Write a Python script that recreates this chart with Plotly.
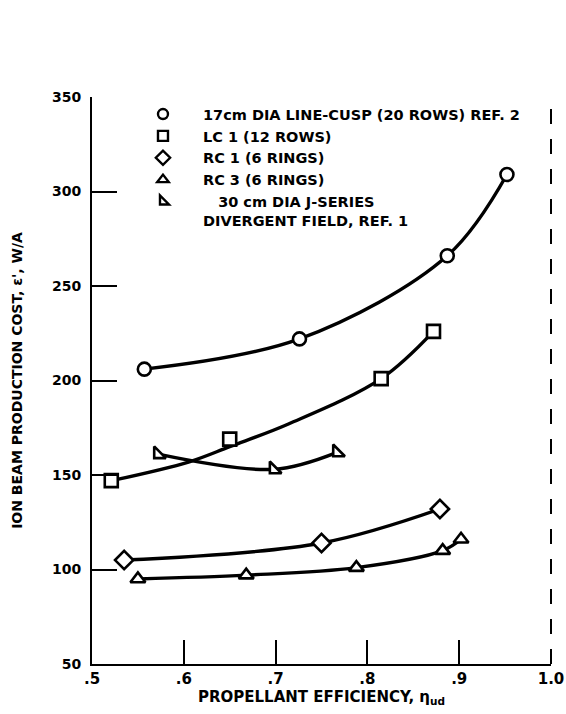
import plotly.graph_objects as go

# ---- data ----
circ_x = [0.557, 0.726, 0.887, 0.952]
circ_y = [206, 222, 266, 309]

sq_x = [0.521, 0.650, 0.815, 0.872]
sq_y = [147, 169, 201, 226]
# faired curve through the LC 1 data
sq_curve_x = [0.521, 0.606, 0.650, 0.714, 0.815, 0.872]
sq_curve_y = [147, 157, 165, 177, 201, 226]

dia_x = [0.535, 0.750, 0.879]
dia_y = [105, 114, 132]

tri_x = [0.550, 0.668, 0.788, 0.882, 0.902]
tri_y = [95, 97, 101, 110, 116]

j_x = [0.572, 0.698, 0.767]
j_y = [161, 153, 162]

x_ticks = [0.5, 0.6, 0.7, 0.8, 0.9, 1.0]
x_ticktext = [".5", ".6", ".7", ".8", ".9", "1.0"]
y_ticks = [50, 100, 150, 200, 250, 300, 350]

names = [
    "17cm DIA LINE-CUSP (20 ROWS) REF. 2",
    "LC 1 (12 ROWS)",
    "RC 1 (6 RINGS)",
    "RC 3 (6 RINGS)",
    "&nbsp;&nbsp;&nbsp;30 cm DIA J-SERIES<br>DIVERGENT FIELD, REF. 1",
]

FONT = "DejaVu Sans, Liberation Sans, sans-serif"
LW = 3.4

fig = go.Figure()

curves = [
    (circ_x, circ_y),
    (sq_curve_x, sq_curve_y),
    (dia_x, dia_y),
    (tri_x, tri_y),
    (j_x, j_y),
]
for cx, cy in curves:
    fig.add_trace(go.Scatter(
        x=cx, y=cy, mode="lines",
        line=dict(color="black", width=LW, shape="spline", smoothing=1.0),
        showlegend=False, hoverinfo="skip"))

markers = [
    (circ_x, circ_y, "circle", 13),
    (sq_x, sq_y, "square", 13),
    (dia_x, dia_y, "diamond", 14),
    (tri_x, tri_y, "triangle-up", 13),
    (j_x, j_y, "triangle-sw", 13),
]
for (mx, my, sym, sz), nm in zip(markers, names):
    # data markers
    fig.add_trace(go.Scatter(
        x=mx, y=my, mode="markers", name=nm, showlegend=False,
        marker=dict(symbol=sym, size=sz, color="white",
                    line=dict(color="black", width=2.6))))
    # legend key (slightly smaller symbol, as in the original key)
    fig.add_trace(go.Scatter(
        x=[None], y=[None], mode="markers", name=nm,
        marker=dict(symbol=sym, size=sz - 3, color="white",
                    line=dict(color="black", width=2.4))))

fig.update_layout(
    width=566, height=714,
    margin=dict(l=92, r=15, t=97, b=50, autoexpand=False),
    paper_bgcolor="white", plot_bgcolor="white",
    font=dict(family=FONT, color="black", size=14, weight="bold"),
    legend=dict(x=0.0675, y=0.998, xanchor="left", yanchor="top",
                bgcolor="rgba(0,0,0,0)", borderwidth=0, valign="top",
                font=dict(family=FONT, size=14.5, color="black", weight="bold"),
                itemwidth=70, tracegroupgap=0),
    shapes=[dict(type="line", xref="paper", yref="paper", x0=1, x1=1, y0=0, y1=1,
                 line=dict(color="black", width=2, dash="longdash"))],
)

fig.update_xaxes(
    range=[0.5, 1.0], tickvals=x_ticks, ticktext=x_ticktext,
    ticks="inside", ticklen=24, tickwidth=2, tickcolor="black",
    showline=True, linewidth=2, linecolor="black",
    showgrid=False, zeroline=False, automargin=False,
    tickfont=dict(family=FONT, size=15, color="black", weight="bold"),
    title=dict(text="PROPELLANT EFFICIENCY, η<sub>ud</sub>",
               font=dict(family=FONT, size=15, color="black", weight="bold"), standoff=0),
)
fig.update_yaxes(
    range=[50, 350], tickvals=y_ticks,
    ticks="inside", ticklen=25, tickwidth=2, tickcolor="black",
    showline=True, linewidth=2, linecolor="black",
    showgrid=False, zeroline=False, ticklabelstandoff=6, automargin=False,
    tickfont=dict(family=FONT, size=14, color="black", weight="bold"),
    title=dict(text="ION BEAM PRODUCTION COST, ε', W/A",
               font=dict(family=FONT, size=14, color="black", weight="bold"), standoff=26),
)

fig.write_html("out.html", config={"displayModeBar": False},
               post_script="document.body.style.margin='0';")
